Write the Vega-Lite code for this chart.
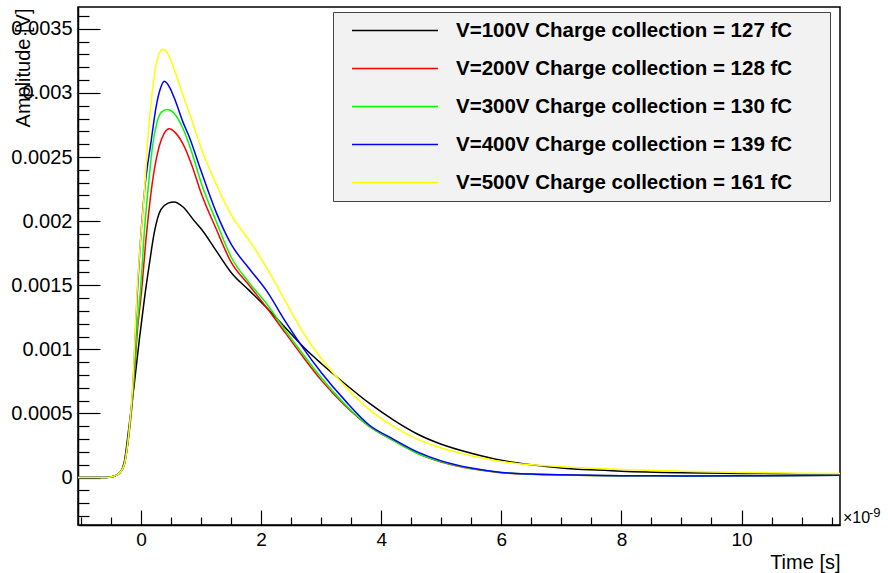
{
  "$schema": "https://vega.github.io/schema/vega-lite/v6.json",
  "width": 762,
  "height": 518,
  "autosize": {"type": "none"},
  "padding": {"left": 78, "top": 7, "right": 48, "bottom": 48},
  "background": "white",
  "config": {
    "font": "Liberation Sans",
    "view": {"stroke": "black", "strokeWidth": 1.5},
    "text": {"font": "Liberation Sans"}
  },
  "resolve": {"axis": {"x": "independent", "y": "independent"}},
  "layer": [
    {
      "data": {"values": [
        {"s":"V=100V Charge collection = 127 fC","t":-1.05,"a":0},{"s":"V=100V Charge collection = 127 fC","t":-0.6,"a":0},{"s":"V=100V Charge collection = 127 fC","t":-0.45,"a":0.00001},{"s":"V=100V Charge collection = 127 fC","t":-0.35,"a":0.00004},{"s":"V=100V Charge collection = 127 fC","t":-0.28,"a":0.00012},{"s":"V=100V Charge collection = 127 fC","t":-0.2,"a":0.0004},{"s":"V=100V Charge collection = 127 fC","t":-0.11,"a":0.00074},{"s":"V=100V Charge collection = 127 fC","t":-0.03,"a":0.00107},{"s":"V=100V Charge collection = 127 fC","t":0.055,"a":0.00139},{"s":"V=100V Charge collection = 127 fC","t":0.14,"a":0.00167},{"s":"V=100V Charge collection = 127 fC","t":0.22,"a":0.00191},{"s":"V=100V Charge collection = 127 fC","t":0.33,"a":0.00209},{"s":"V=100V Charge collection = 127 fC","t":0.45,"a":0.00214},{"s":"V=100V Charge collection = 127 fC","t":0.55,"a":0.00215},{"s":"V=100V Charge collection = 127 fC","t":0.7,"a":0.00211},{"s":"V=100V Charge collection = 127 fC","t":0.89,"a":0.002},{"s":"V=100V Charge collection = 127 fC","t":1.0,"a":0.00194},{"s":"V=100V Charge collection = 127 fC","t":1.25,"a":0.00177},{"s":"V=100V Charge collection = 127 fC","t":1.5,"a":0.0016},{"s":"V=100V Charge collection = 127 fC","t":1.8,"a":0.00146},{"s":"V=100V Charge collection = 127 fC","t":2.1,"a":0.00132},{"s":"V=100V Charge collection = 127 fC","t":2.4,"a":0.00117},{"s":"V=100V Charge collection = 127 fC","t":2.7,"a":0.00102},{"s":"V=100V Charge collection = 127 fC","t":3.0,"a":0.00089},{"s":"V=100V Charge collection = 127 fC","t":3.4,"a":0.00073},{"s":"V=100V Charge collection = 127 fC","t":3.8,"a":0.00058},{"s":"V=100V Charge collection = 127 fC","t":4.2,"a":0.00045},{"s":"V=100V Charge collection = 127 fC","t":4.6,"a":0.00034},{"s":"V=100V Charge collection = 127 fC","t":5.0,"a":0.00026},{"s":"V=100V Charge collection = 127 fC","t":5.5,"a":0.00019},{"s":"V=100V Charge collection = 127 fC","t":6.0,"a":0.000135},{"s":"V=100V Charge collection = 127 fC","t":6.5,"a":0.0001},{"s":"V=100V Charge collection = 127 fC","t":7.0,"a":0.000075},{"s":"V=100V Charge collection = 127 fC","t":7.5,"a":0.00006},{"s":"V=100V Charge collection = 127 fC","t":8.0,"a":0.00005},{"s":"V=100V Charge collection = 127 fC","t":9.0,"a":0.000038},{"s":"V=100V Charge collection = 127 fC","t":10.0,"a":0.000032},{"s":"V=100V Charge collection = 127 fC","t":11.0,"a":0.00003},{"s":"V=100V Charge collection = 127 fC","t":11.64,"a":0.00003},

        {"s":"V=200V Charge collection = 128 fC","t":-1.05,"a":0},{"s":"V=200V Charge collection = 128 fC","t":-0.6,"a":0},{"s":"V=200V Charge collection = 128 fC","t":-0.45,"a":0.00001},{"s":"V=200V Charge collection = 128 fC","t":-0.35,"a":0.00004},{"s":"V=200V Charge collection = 128 fC","t":-0.28,"a":0.0001},{"s":"V=200V Charge collection = 128 fC","t":-0.2,"a":0.00034},{"s":"V=200V Charge collection = 128 fC","t":-0.14,"a":0.00062},{"s":"V=200V Charge collection = 128 fC","t":-0.06,"a":0.00115},{"s":"V=200V Charge collection = 128 fC","t":0.01,"a":0.00146},{"s":"V=200V Charge collection = 128 fC","t":0.08,"a":0.00185},{"s":"V=200V Charge collection = 128 fC","t":0.155,"a":0.00218},{"s":"V=200V Charge collection = 128 fC","t":0.22,"a":0.0024},{"s":"V=200V Charge collection = 128 fC","t":0.3,"a":0.00258},{"s":"V=200V Charge collection = 128 fC","t":0.38,"a":0.00268},{"s":"V=200V Charge collection = 128 fC","t":0.47,"a":0.00272},{"s":"V=200V Charge collection = 128 fC","t":0.57,"a":0.00269},{"s":"V=200V Charge collection = 128 fC","t":0.7,"a":0.0026},{"s":"V=200V Charge collection = 128 fC","t":0.85,"a":0.00243},{"s":"V=200V Charge collection = 128 fC","t":1.0,"a":0.00222},{"s":"V=200V Charge collection = 128 fC","t":1.25,"a":0.00194},{"s":"V=200V Charge collection = 128 fC","t":1.5,"a":0.00168},{"s":"V=200V Charge collection = 128 fC","t":1.8,"a":0.0015},{"s":"V=200V Charge collection = 128 fC","t":2.1,"a":0.00132},{"s":"V=200V Charge collection = 128 fC","t":2.4,"a":0.00113},{"s":"V=200V Charge collection = 128 fC","t":2.7,"a":0.00094},{"s":"V=200V Charge collection = 128 fC","t":3.0,"a":0.00076},{"s":"V=200V Charge collection = 128 fC","t":3.4,"a":0.00056},{"s":"V=200V Charge collection = 128 fC","t":3.8,"a":0.0004},{"s":"V=200V Charge collection = 128 fC","t":4.2,"a":0.00029},{"s":"V=200V Charge collection = 128 fC","t":4.6,"a":0.00019},{"s":"V=200V Charge collection = 128 fC","t":5.0,"a":0.000122},{"s":"V=200V Charge collection = 128 fC","t":5.5,"a":0.000068},{"s":"V=200V Charge collection = 128 fC","t":6.0,"a":0.000038},{"s":"V=200V Charge collection = 128 fC","t":6.5,"a":0.000026},{"s":"V=200V Charge collection = 128 fC","t":7.0,"a":0.00002},{"s":"V=200V Charge collection = 128 fC","t":7.5,"a":0.000017},{"s":"V=200V Charge collection = 128 fC","t":8.0,"a":0.000015},{"s":"V=200V Charge collection = 128 fC","t":9.0,"a":0.000013},{"s":"V=200V Charge collection = 128 fC","t":10.0,"a":0.000014},{"s":"V=200V Charge collection = 128 fC","t":11.0,"a":0.000016},{"s":"V=200V Charge collection = 128 fC","t":11.64,"a":0.000018},

        {"s":"V=300V Charge collection = 130 fC","t":-1.05,"a":0},{"s":"V=300V Charge collection = 130 fC","t":-0.6,"a":0},{"s":"V=300V Charge collection = 130 fC","t":-0.45,"a":0.00001},{"s":"V=300V Charge collection = 130 fC","t":-0.35,"a":0.00004},{"s":"V=300V Charge collection = 130 fC","t":-0.28,"a":0.0001},{"s":"V=300V Charge collection = 130 fC","t":-0.2,"a":0.00035},{"s":"V=300V Charge collection = 130 fC","t":-0.14,"a":0.00064},{"s":"V=300V Charge collection = 130 fC","t":-0.06,"a":0.0012},{"s":"V=300V Charge collection = 130 fC","t":-0.01,"a":0.00146},{"s":"V=300V Charge collection = 130 fC","t":0.06,"a":0.00195},{"s":"V=300V Charge collection = 130 fC","t":0.127,"a":0.0023},{"s":"V=300V Charge collection = 130 fC","t":0.19,"a":0.00258},{"s":"V=300V Charge collection = 130 fC","t":0.26,"a":0.00276},{"s":"V=300V Charge collection = 130 fC","t":0.34,"a":0.00285},{"s":"V=300V Charge collection = 130 fC","t":0.43,"a":0.00287},{"s":"V=300V Charge collection = 130 fC","t":0.57,"a":0.00283},{"s":"V=300V Charge collection = 130 fC","t":0.7,"a":0.00272},{"s":"V=300V Charge collection = 130 fC","t":0.85,"a":0.00253},{"s":"V=300V Charge collection = 130 fC","t":1.0,"a":0.0023},{"s":"V=300V Charge collection = 130 fC","t":1.25,"a":0.002},{"s":"V=300V Charge collection = 130 fC","t":1.5,"a":0.00172},{"s":"V=300V Charge collection = 130 fC","t":1.8,"a":0.00152},{"s":"V=300V Charge collection = 130 fC","t":2.1,"a":0.00135},{"s":"V=300V Charge collection = 130 fC","t":2.4,"a":0.00115},{"s":"V=300V Charge collection = 130 fC","t":2.7,"a":0.00096},{"s":"V=300V Charge collection = 130 fC","t":3.0,"a":0.00078},{"s":"V=300V Charge collection = 130 fC","t":3.4,"a":0.00057},{"s":"V=300V Charge collection = 130 fC","t":3.8,"a":0.0004},{"s":"V=300V Charge collection = 130 fC","t":4.2,"a":0.00029},{"s":"V=300V Charge collection = 130 fC","t":4.6,"a":0.00019},{"s":"V=300V Charge collection = 130 fC","t":5.0,"a":0.000125},{"s":"V=300V Charge collection = 130 fC","t":5.5,"a":0.00007},{"s":"V=300V Charge collection = 130 fC","t":6.0,"a":0.00004},{"s":"V=300V Charge collection = 130 fC","t":6.5,"a":0.000027},{"s":"V=300V Charge collection = 130 fC","t":7.0,"a":0.00002},{"s":"V=300V Charge collection = 130 fC","t":7.5,"a":0.000017},{"s":"V=300V Charge collection = 130 fC","t":8.0,"a":0.000015},{"s":"V=300V Charge collection = 130 fC","t":9.0,"a":0.000013},{"s":"V=300V Charge collection = 130 fC","t":10.0,"a":0.000014},{"s":"V=300V Charge collection = 130 fC","t":11.0,"a":0.000016},{"s":"V=300V Charge collection = 130 fC","t":11.64,"a":0.000018},

        {"s":"V=400V Charge collection = 139 fC","t":-1.05,"a":0},{"s":"V=400V Charge collection = 139 fC","t":-0.6,"a":0},{"s":"V=400V Charge collection = 139 fC","t":-0.45,"a":0.00001},{"s":"V=400V Charge collection = 139 fC","t":-0.35,"a":0.00004},{"s":"V=400V Charge collection = 139 fC","t":-0.28,"a":0.0001},{"s":"V=400V Charge collection = 139 fC","t":-0.2,"a":0.00036},{"s":"V=400V Charge collection = 139 fC","t":-0.14,"a":0.00068},{"s":"V=400V Charge collection = 139 fC","t":-0.06,"a":0.00146},{"s":"V=400V Charge collection = 139 fC","t":0.05,"a":0.0022},{"s":"V=400V Charge collection = 139 fC","t":0.17,"a":0.00263},{"s":"V=400V Charge collection = 139 fC","t":0.25,"a":0.00289},{"s":"V=400V Charge collection = 139 fC","t":0.32,"a":0.00303},{"s":"V=400V Charge collection = 139 fC","t":0.39,"a":0.00309},{"s":"V=400V Charge collection = 139 fC","t":0.48,"a":0.00304},{"s":"V=400V Charge collection = 139 fC","t":0.57,"a":0.00294},{"s":"V=400V Charge collection = 139 fC","t":0.7,"a":0.00277},{"s":"V=400V Charge collection = 139 fC","t":0.8,"a":0.00266},{"s":"V=400V Charge collection = 139 fC","t":1.0,"a":0.00239},{"s":"V=400V Charge collection = 139 fC","t":1.25,"a":0.00207},{"s":"V=400V Charge collection = 139 fC","t":1.5,"a":0.00182},{"s":"V=400V Charge collection = 139 fC","t":1.8,"a":0.00163},{"s":"V=400V Charge collection = 139 fC","t":2.1,"a":0.00145},{"s":"V=400V Charge collection = 139 fC","t":2.4,"a":0.00122},{"s":"V=400V Charge collection = 139 fC","t":2.7,"a":0.00101},{"s":"V=400V Charge collection = 139 fC","t":3.0,"a":0.00082},{"s":"V=400V Charge collection = 139 fC","t":3.4,"a":0.0006},{"s":"V=400V Charge collection = 139 fC","t":3.8,"a":0.00041},{"s":"V=400V Charge collection = 139 fC","t":4.2,"a":0.0003},{"s":"V=400V Charge collection = 139 fC","t":4.6,"a":0.0002},{"s":"V=400V Charge collection = 139 fC","t":5.0,"a":0.00013},{"s":"V=400V Charge collection = 139 fC","t":5.5,"a":0.000074},{"s":"V=400V Charge collection = 139 fC","t":6.0,"a":0.00004},{"s":"V=400V Charge collection = 139 fC","t":6.5,"a":0.000027},{"s":"V=400V Charge collection = 139 fC","t":7.0,"a":0.000021},{"s":"V=400V Charge collection = 139 fC","t":7.5,"a":0.000018},{"s":"V=400V Charge collection = 139 fC","t":8.0,"a":0.000015},{"s":"V=400V Charge collection = 139 fC","t":9.0,"a":0.000013},{"s":"V=400V Charge collection = 139 fC","t":10.0,"a":0.000014},{"s":"V=400V Charge collection = 139 fC","t":11.0,"a":0.000016},{"s":"V=400V Charge collection = 139 fC","t":11.64,"a":0.000018},

        {"s":"V=500V Charge collection = 161 fC","t":-1.05,"a":0},{"s":"V=500V Charge collection = 161 fC","t":-0.6,"a":0},{"s":"V=500V Charge collection = 161 fC","t":-0.45,"a":0.00001},{"s":"V=500V Charge collection = 161 fC","t":-0.35,"a":0.00004},{"s":"V=500V Charge collection = 161 fC","t":-0.28,"a":0.0001},{"s":"V=500V Charge collection = 161 fC","t":-0.2,"a":0.00036},{"s":"V=500V Charge collection = 161 fC","t":-0.14,"a":0.0007},{"s":"V=500V Charge collection = 161 fC","t":-0.06,"a":0.0015},{"s":"V=500V Charge collection = 161 fC","t":0.0,"a":0.0019},{"s":"V=500V Charge collection = 161 fC","t":0.055,"a":0.00222},{"s":"V=500V Charge collection = 161 fC","t":0.11,"a":0.00263},{"s":"V=500V Charge collection = 161 fC","t":0.19,"a":0.00302},{"s":"V=500V Charge collection = 161 fC","t":0.26,"a":0.00324},{"s":"V=500V Charge collection = 161 fC","t":0.36,"a":0.00334},{"s":"V=500V Charge collection = 161 fC","t":0.45,"a":0.0033},{"s":"V=500V Charge collection = 161 fC","t":0.57,"a":0.00316},{"s":"V=500V Charge collection = 161 fC","t":0.7,"a":0.00298},{"s":"V=500V Charge collection = 161 fC","t":0.85,"a":0.00278},{"s":"V=500V Charge collection = 161 fC","t":1.0,"a":0.00257},{"s":"V=500V Charge collection = 161 fC","t":1.25,"a":0.00229},{"s":"V=500V Charge collection = 161 fC","t":1.5,"a":0.00205},{"s":"V=500V Charge collection = 161 fC","t":1.8,"a":0.00185},{"s":"V=500V Charge collection = 161 fC","t":2.1,"a":0.00163},{"s":"V=500V Charge collection = 161 fC","t":2.4,"a":0.00138},{"s":"V=500V Charge collection = 161 fC","t":2.7,"a":0.00113},{"s":"V=500V Charge collection = 161 fC","t":3.0,"a":0.00093},{"s":"V=500V Charge collection = 161 fC","t":3.4,"a":0.00071},{"s":"V=500V Charge collection = 161 fC","t":3.8,"a":0.00053},{"s":"V=500V Charge collection = 161 fC","t":4.2,"a":0.0004},{"s":"V=500V Charge collection = 161 fC","t":4.6,"a":0.0003},{"s":"V=500V Charge collection = 161 fC","t":5.0,"a":0.00023},{"s":"V=500V Charge collection = 161 fC","t":5.5,"a":0.00017},{"s":"V=500V Charge collection = 161 fC","t":6.0,"a":0.000125},{"s":"V=500V Charge collection = 161 fC","t":6.5,"a":0.0001},{"s":"V=500V Charge collection = 161 fC","t":7.0,"a":0.000085},{"s":"V=500V Charge collection = 161 fC","t":7.5,"a":0.000072},{"s":"V=500V Charge collection = 161 fC","t":8.0,"a":0.000062},{"s":"V=500V Charge collection = 161 fC","t":9.0,"a":0.00005},{"s":"V=500V Charge collection = 161 fC","t":10.0,"a":0.00004},{"s":"V=500V Charge collection = 161 fC","t":11.0,"a":0.000034},{"s":"V=500V Charge collection = 161 fC","t":11.64,"a":0.000032}
      ]},
      "mark": {"type": "line", "strokeWidth": 1.5, "interpolate": "monotone"},
      "encoding": {
        "x": {
          "field": "t", "type": "quantitative",
          "scale": {"domain": [-1.05, 11.64], "nice": false, "zero": false},
          "axis": {
            "orient": "bottom",
            "values": [0, 2, 4, 6, 8, 10],
            "format": "d",
            "tickSize": -15,
            "labelPadding": 20,
            "labelOverlap": false, "labelFlush": false, "labelBound": false,
            "labelFont": "Liberation Sans", "labelFontSize": 19, "labelColor": "black",
            "domainColor": "black", "domainWidth": 1.5, "tickColor": "black", "tickWidth": 1.2,
            "grid": false,
            "title": "Time [s]", "titleFont": "Liberation Sans", "titleFontSize": 20, "titleFontWeight": "normal", "titleColor": "black",
            "titleX": 762, "titleY": 43, "titleAlign": "right", "titleBaseline": "alphabetic"
          }
        },
        "y": {
          "field": "a", "type": "quantitative",
          "scale": {"domain": [-0.00037, 0.00367], "nice": false, "zero": false},
          "axis": {
            "orient": "left",
            "values": [0, 0.0005, 0.001, 0.0015, 0.002, 0.0025, 0.003, 0.0035],
            "format": "~g",
            "tickSize": -22,
            "labelPadding": 28,
            "labelOverlap": false, "labelFlush": false, "labelBound": false,
            "labelFont": "Liberation Sans", "labelFontSize": 20, "labelColor": "black",
            "domainColor": "black", "domainWidth": 1.5, "tickColor": "black", "tickWidth": 1.2,
            "grid": false,
            "title": "Amplitude [V]", "titleFont": "Liberation Sans", "titleFontSize": 20, "titleFontWeight": "normal", "titleColor": "black",
            "titleX": -49, "titleY": 1, "titleAngle": -90, "titleAlign": "right", "titleBaseline": "alphabetic"
          }
        },
        "color": {
          "field": "s", "type": "nominal",
          "scale": {
            "domain": ["V=100V Charge collection = 127 fC","V=200V Charge collection = 128 fC","V=300V Charge collection = 130 fC","V=400V Charge collection = 139 fC","V=500V Charge collection = 161 fC"],
            "range": ["#000000","#ff0000","#00ff00","#0000ff","#ffff00"]
          },
          "legend": {
            "orient": "none", "legendX": 255, "legendY": 5,
            "title": " ", "titleOrient": "right", "titlePadding": 30, "titleFontSize": 1,
            "symbolType": "stroke", "symbolSize": 7396, "symbolStrokeWidth": 1.5,
            "clipHeight": 21, "rowPadding": 17, "padding": 8,
            "symbolOffset": 10, "labelOffset": 17,
            "labelFont": "Liberation Sans", "labelFontSize": 20.5, "labelFontWeight": "bold", "labelColor": "black",
            "labelLimit": 1000,
            "fillColor": "#f2f2f2", "strokeColor": "#444444"
          }
        }
      }
    },
    {
      "data": {"values": [{"txt": "×10"}]},
      "mark": {"type": "text", "align": "left", "baseline": "alphabetic", "dx": 3, "dy": -2, "fontSize": 16, "color": "black", "font": "Liberation Sans"},
      "encoding": {
        "x": {"datum": 11.64, "type": "quantitative",
          "axis": {
            "orient": "bottom",
            "values": [-1,-0.5,0.5,1,1.5,2.5,3,3.5,4.5,5,5.5,6.5,7,7.5,8.5,9,9.5,10.5,11,11.5],
            "tickCount": 200,
            "tickSize": -8, "tickColor": "black", "tickWidth": 1.2,
            "labels": false, "domain": false, "grid": false, "title": null
          }
        },
        "y": {"datum": -0.00037, "type": "quantitative",
          "axis": {
            "orient": "left",
            "values": [-0.0003,-0.0002,-0.0001,0.0001,0.0002,0.0003,0.0004,0.0006,0.0007,0.0008,0.0009,0.0011,0.0012,0.0013,0.0014,0.0016,0.0017,0.0018,0.0019,0.0021,0.0022,0.0023,0.0024,0.0026,0.0027,0.0028,0.0029,0.0031,0.0032,0.0033,0.0034,0.0036],
            "tickCount": 200,
            "tickSize": -11, "tickColor": "black", "tickWidth": 1.2,
            "labels": false, "domain": false, "grid": false, "title": null
          }
        },
        "text": {"field": "txt"}
      }
    },
    {
      "data": {"values": [{"txt": "-9"}]},
      "mark": {"type": "text", "align": "left", "baseline": "alphabetic", "dx": 29, "dy": -8, "fontSize": 13, "color": "black", "font": "Liberation Sans"},
      "encoding": {
        "x": {"datum": 11.64, "type": "quantitative", "axis": null},
        "y": {"datum": -0.00037, "type": "quantitative", "axis": null},
        "text": {"field": "txt"}
      }
    }
  ]
}
